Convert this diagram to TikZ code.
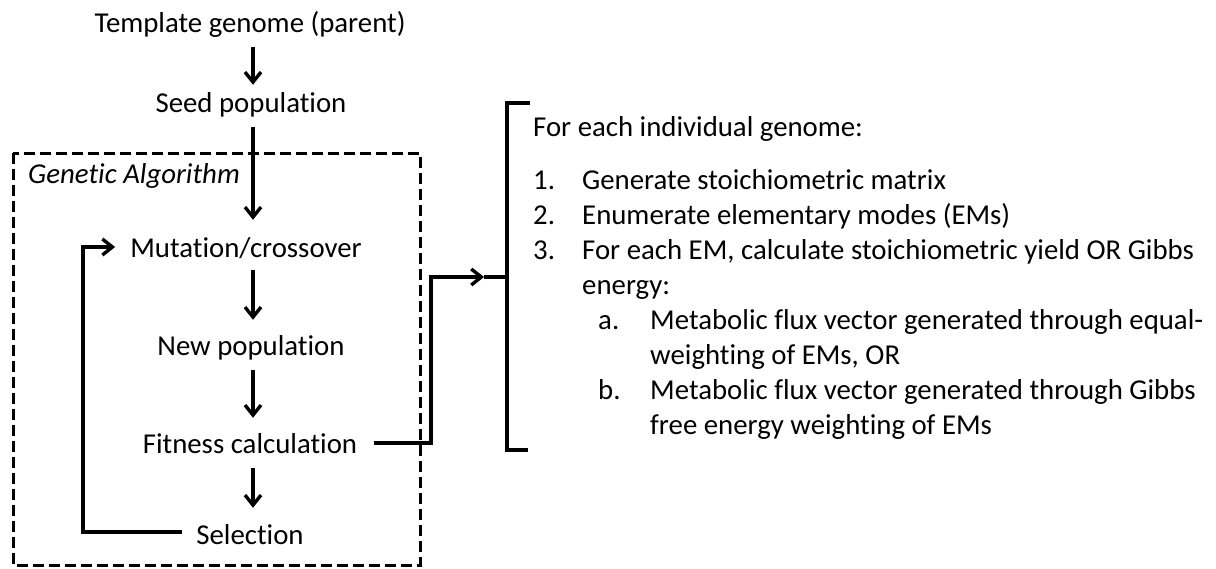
\documentclass[tikz,border=0pt]{standalone}
\usepackage{fontspec}
\setmainfont{Carlito}[RawFeature={-liga;-clig}]
\usetikzlibrary{arrows.meta,calc}
\begin{document}
\begin{tikzpicture}[x=1pt,y=-1pt,
  lbl/.style={inner sep=0pt,text height=20pt,text depth=7pt,anchor=base},
  txt/.style={inner sep=0pt,anchor=base west},
  conn/.style={line width=3.4pt},
  arr/.style={line width=3.4pt,-{Straight Barb[length=10pt,width=16pt]}},
  gabox/.style={line width=3pt,dash pattern=on 11pt off 5pt}]
\useasboundingbox (0,0) rectangle (1216,568);
\fontsize{28.8}{35}\selectfont
\coordinate (ax) at (253,0);
\coordinate (loopx) at (83,0);
\coordinate (jx) at (431,0);
% left column
\node[lbl] (tmpl) at (250,32) {Template genome (parent)};
\node[lbl] (seed) at (251,112) {Seed population};
\node[lbl] (mut) at (246,257) {Mutation/crossover};
\node[lbl] (newp) at (251,355) {New population};
\node[lbl] (fit) at (250,453) {Fitness calculation};
\node[lbl] (sel) at (250,544) {Selection};
\node[txt] (ga) at (28,183) {\itshape Genetic Algorithm};
% dashed box
\draw[gabox] (13,153) rectangle (420,565);
% vertical arrows
\draw[arr] ($(tmpl.south -| ax)+(0,8)$) -- ($(seed.north -| ax)+(0,-7)$);
\draw[arr] ($(seed.south -| ax)+(0,8)$) -- ($(mut.north -| ax)+(0,-17)$);
\draw[arr] ($(mut.south -| ax)+(0,6)$) -- ($(newp.north -| ax)+(0,-15)$);
\draw[arr] ($(newp.south -| ax)+(0,8)$) -- ($(fit.north -| ax)+(0,-15)$);
\draw[arr] ($(fit.south -| ax)+(0,8)$) -- ($(sel.north -| ax)+(0,-16)$);
% loop back
\coordinate (selL) at ($(sel.base west)+(-14,-12)$);
\coordinate (mutL) at ($(mut.base west)+(-15,-10)$);
\draw[arr] (selL) -- (selL -| loopx) -- (mutL -| loopx) -- (mutL);
% bracket
\coordinate (brT) at (507,103);
\coordinate (brB) at (507,450);
\coordinate (brM) at (507,277);
\draw[conn] ($(brT)+(23,0)$) -- (brT) -- (brB) -- ($(brB)+(21,0)$);
% fitness to bracket
\coordinate (fitR) at ($(fit.base east)+(17,-10)$);
\coordinate (tip) at (484,277);
\draw[arr] (fitR) -- (fitR -| jx) -- (jx |- tip) -- (tip);
\draw[conn] (tip) -- (brM);
% right text
\node[txt] (hdr) at (533,136) {For each individual genome:};
\node[txt] (n1) at (533,189) {1.};
\node[txt] (t1) at (582,189) {Generate stoichiometric matrix};
\node[txt] (n2) at (533,224) {2.};
\node[txt] (t2) at (582,224) {Enumerate elementary modes (EMs)};
\node[txt] (n3) at (533,259) {3.};
\node[txt] (t3) at (582,259) {For each EM, calculate stoichiometric yield OR Gibbs};
\node[txt] (t3b) at (582,294) {energy:};
\node[txt] (na) at (598,329) {a.};
\node[txt] (ta) at (650,329) {Metabolic flux vector generated through equal-};
\node[txt] (ta2) at (650,364) {weighting of EMs, OR};
\node[txt] (nb) at (598,399) {b.};
\node[txt] (tb) at (650,399) {Metabolic flux vector generated through Gibbs};
\node[txt] (tb2) at (650,434) {free energy weighting of EMs};
\end{tikzpicture}
\end{document}
